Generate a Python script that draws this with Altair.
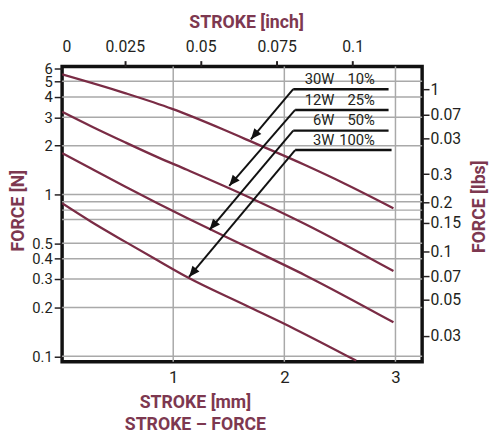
import altair as alt
import pandas as pd

# ---------------- data ----------------
series = ["30W 10%", "12W 25%", "6W 50%", "3W 100%"]
stroke_30w = [0, 0.566, 0.991, 1.451, 1.655, 2.186, 2.540, 2.982]
force_30w = [5.52, 4.23, 3.38, 2.52, 2.19, 1.52, 1.17, 0.822]
stroke_12w = [0, 0.265, 0.566, 0.858, 1.124, 1.628, 2.186, 2.982]
force_12w = [3.24, 2.63, 2.10, 1.70, 1.42, 1.00, 0.657, 0.336]
stroke_6w = [0, 0.265, 0.566, 0.858, 1.124, 1.655, 2.186, 2.982]
force_6w = [1.80, 1.44, 1.12, 0.882, 0.715, 0.476, 0.317, 0.162]
stroke_3w = [0, 0.265, 0.566, 0.858, 1.124, 1.655, 2.097, 2.646]
force_3w = [0.882, 0.676, 0.511, 0.392, 0.309, 0.206, 0.147, 0.0939]

n_ticks = [6, 5, 4, 3, 2, 1, 0.5, 0.4, 0.3, 0.2, 0.1]
n_grid = [5, 4, 3, 2, 1, 0.9, 0.8, 0.7, 0.5, 0.4, 0.3, 0.2, 0.1]
mm_ticks = [1, 2, 3]
inch_ticks = [0.00437, 0.025, 0.05, 0.075, 0.1]
inch_labels = ["0", "0.025", "0.05", "0.075", "0.1"]
lbs_ticks = [1, 0.7, 0.5, 0.3, 0.2, 0.15, 0.1, 0.07, 0.05, 0.03]
lbs_labels = ["1", "0.07", "0.03", "0.3", "0.2", "0.15", "0.1", "0.07", "0.05", "0.03"]

watts = ["30W", "12W", "6W", "3W"]
duty = ["10%", "25%", "50%", "100%"]
label_force = [5.14, 3.83, 2.90, 2.16]
watt_x = 2.451
duty_x = 2.815
leader_x_start = [2.080, 2.097, 2.080, 2.097]
leader_x_end = [2.938, 2.938, 2.938, 2.965]
leader_force = [4.47, 3.33, 2.48, 1.88]
arrow_x = [1.699, 1.504, 1.327, 1.142]
arrow_force = [2.19, 1.13, 0.604, 0.309]

x_domain = [0, 3.24]
y_domain = [0.0926, 6.17]
N_TO_LBS = 0.224809
inch_domain = [0.00437, 0.1229]

# ---------------- styling ----------------
FONT = "Roboto, Liberation Sans, sans-serif"
MAROON = "#7a2c45"
TITLE_C = "#7d3850"
TXT = "#231f20"

curves = pd.concat([
    pd.DataFrame({"series": s, "stroke": xs_, "force": ys_})
    for s, xs_, ys_ in zip(series,
                           [stroke_30w, stroke_12w, stroke_6w, stroke_3w],
                           [force_30w, force_12w, force_6w, force_3w])
], ignore_index=True)

ann = pd.DataFrame({
    "watt": watts, "duty": duty, "lf": label_force,
    "wx": [watt_x] * 4, "dx": [duty_x] * 4,
    "xs": leader_x_start, "xe": leader_x_end, "yl": leader_force,
    "xa": arrow_x, "ya": arrow_force,
})

# secondary axes drawn on the primary scales
lbs_pos = [v / N_TO_LBS for v in lbs_ticks]
inch_pos = [(v - inch_domain[0]) / (inch_domain[1] - inch_domain[0]) * x_domain[1]
            for v in inch_ticks]

xs = alt.Scale(type="linear", domain=x_domain, nice=False, zero=False)
ys = alt.Scale(type="log", domain=y_domain, nice=False)


def label_expr(vals, labs):
    parts = [f"datum.value == {repr(float(v))} ? '{l}'" for v, l in zip(vals, labs)]
    return " : ".join(parts) + " : datum.label"


hgrid = alt.Chart(pd.DataFrame({"g": n_grid})).mark_rule(
    color="#a9a9a9", strokeWidth=1.5
).encode(y=alt.Y("g:Q", scale=ys, axis=None))

vgrid = alt.Chart(pd.DataFrame({"g": mm_ticks})).mark_rule(
    color="#a9a9a9", strokeWidth=1.5
).encode(x=alt.X("g:Q", scale=xs, axis=None))

lines = alt.Chart(curves).mark_line(
    color=MAROON, strokeWidth=2.3, interpolate="monotone", clip=True
).encode(
    x=alt.X("stroke:Q", scale=xs, axis=alt.Axis(
        orient="bottom", values=mm_ticks, format="d", ticks=False, tickSize=0,
        domain=False, grid=False, labelOverlap=False,
        labelFont=FONT, labelFontSize=17, labelColor=TXT, labelPadding=8,
        title=["STROKE [mm]", "STROKE \u2013 FORCE"], titleFont=FONT, titleFontSize=18,
        titleFontWeight="bold", titleColor=TITLE_C, titleX=135, titleY=33,
        titleBaseline="top", titleAlign="center", titleLineHeight=22)),
    y=alt.Y("force:Q", scale=ys, axis=alt.Axis(
        orient="left", values=n_ticks, format="~g", tickSize=8, tickColor=TXT,
        tickWidth=1.5, domain=False, grid=False, labelOverlap=False,
        labelFont=FONT, labelFontSize=15, labelColor=TXT, labelPadding=2,
        title="FORCE [N]", titleFont=FONT, titleFontSize=18, titleFontWeight="bold",
        titleColor=TITLE_C, titleAngle=270, titleX=-44, titleY=146,
        titleAlign="center", titleBaseline="middle")),
    detail="series:N",
)

right = alt.Chart(pd.DataFrame({"pos": lbs_pos})).mark_point(opacity=0).encode(
    y=alt.Y("pos:Q", scale=ys, axis=alt.Axis(
        orient="right", values=lbs_pos, labelExpr=label_expr(lbs_pos, lbs_labels),
        tickSize=7, tickColor=TXT, tickWidth=1.5, domain=False, grid=False,
        labelOverlap=False,
        labelFont=FONT, labelFontSize=16, labelColor=TXT, labelPadding=1,
        title="FORCE [lbs]", titleFont=FONT, titleFontSize=18, titleFontWeight="bold",
        titleColor=TITLE_C, titleAngle=270, titleX=58, titleY=142,
        titleAlign="center", titleBaseline="middle")))

top = alt.Chart(pd.DataFrame({"pos": inch_pos})).mark_point(opacity=0).encode(
    x=alt.X("pos:Q", scale=xs, axis=alt.Axis(
        orient="top", values=inch_pos, labelExpr=label_expr(inch_pos, inch_labels),
        tickSize=6, tickColor=TXT, tickWidth=2, domain=False, grid=False,
        labelOverlap=False,
        tickOpacity=alt.condition("datum.value < 0.01", alt.value(0), alt.value(1)),
        labelFont=FONT, labelFontSize=16, labelColor=TXT, labelPadding=6,
        title="STROKE [inch]", titleFont=FONT, titleFontSize=18, titleFontWeight="bold",
        titleColor=TITLE_C, titleX=187, titleY=-45,
        titleAlign="center", titleBaseline="middle")))

hlead = alt.Chart(ann).mark_rule(color="#111", strokeWidth=2.5).encode(
    x=alt.X("xs:Q", scale=xs, axis=None), x2="xe:Q",
    y=alt.Y("yl:Q", scale=ys, axis=None), y2="yl:Q")

dlead = alt.Chart(ann).mark_rule(color="#111", strokeWidth=2).encode(
    x=alt.X("xs:Q", scale=xs, axis=None), x2="xa:Q",
    y=alt.Y("yl:Q", scale=ys, axis=None), y2="ya:Q")

heads = alt.Chart(ann).mark_point(
    shape="M0,0 L-0.42,1 L0.42,1 Z", filled=True, color="#111", opacity=1,
    size=484, angle=220, strokeWidth=0
).encode(x=alt.X("xa:Q", scale=xs, axis=None), y=alt.Y("ya:Q", scale=ys, axis=None))

wtext = alt.Chart(ann).mark_text(
    align="right", baseline="middle", font=FONT, fontSize=15, color=TXT
).encode(x=alt.X("wx:Q", scale=xs, axis=None), y=alt.Y("lf:Q", scale=ys, axis=None),
         text="watt:N")

dtext = alt.Chart(ann).mark_text(
    align="right", baseline="middle", font=FONT, fontSize=15, color=TXT
).encode(x=alt.X("dx:Q", scale=xs, axis=None), y=alt.Y("lf:Q", scale=ys, axis=None),
         text="duty:N")

chart = alt.layer(
    hgrid, vgrid, lines, right, top, hlead, dlead, heads, wtext, dtext
).resolve_axis(
    x="independent", y="independent"
).properties(
    width=366, height=300,
    autosize=alt.AutoSizeParams(type="none"),
    padding={"left": 55, "top": 56, "right": 69, "bottom": 69},
).configure_view(stroke="#111", strokeWidth=3.5)

chart.save("out.html", embed_options={"renderer": "svg", "actions": False})
